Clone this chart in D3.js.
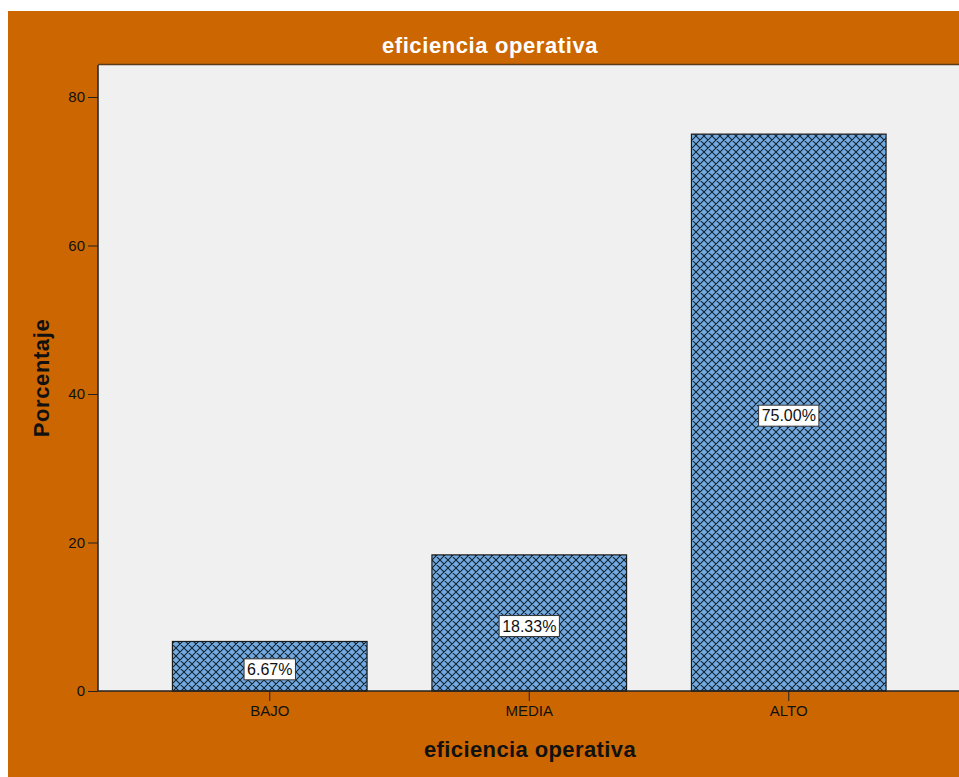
<!DOCTYPE html>
<html>
<head>
<meta charset="utf-8">
<script src="https://cdn.jsdelivr.net/npm/d3@7"></script>
<style>
  html, body { margin: 0; padding: 0; background: #ffffff; }
  svg { display: block; font-family: Arial, "Liberation Sans", sans-serif; }
</style>
</head>
<body>
<div id="chart"></div>
<script>
// categories and percentages
const categories = ["BAJO", "MEDIA", "ALTO"];
const percentages = [6.67, 18.33, 75.00];
const yTicks = [0, 20, 40, 60, 80];

const W = 959, H = 777;
const plot = {left: 98, top: 65, right: 959, bottom: 691};

const svg = d3.select("#chart").append("svg")
    .attr("width", W)
    .attr("height", H);

// orange frame
svg.append("rect")
    .attr("x", 8).attr("y", 11)
    .attr("width", W - 8).attr("height", H - 11)
    .attr("fill", "#cc6600");

// crosshatch fill for the bars
const defs = svg.append("defs");
const pat = defs.append("pattern")
    .attr("id", "hatch")
    .attr("patternUnits", "userSpaceOnUse")
    .attr("width", 8).attr("height", 8);
pat.append("rect").attr("width", 8).attr("height", 8).attr("fill", "#72aae0");
pat.append("path")
    .attr("d", "M0,0L8,8M0,8L8,0M-1,1L1,-1M7,9L9,7M-1,7L1,9M7,-1L9,1")
    .attr("stroke", "#10202e")
    .attr("stroke-width", 1.05);

// plot background
svg.append("rect")
    .attr("x", plot.left).attr("y", plot.top)
    .attr("width", plot.right - plot.left).attr("height", plot.bottom - plot.top)
    .attr("fill", "#f0f0f0");
svg.append("line")
    .attr("x1", plot.left).attr("x2", plot.right)
    .attr("y1", plot.top - 0.5).attr("y2", plot.top - 0.5)
    .attr("stroke", "#5a3a1a").attr("stroke-width", 1.5);

const x = d3.scaleBand()
    .domain(categories)
    .range([140, 918.5])
    .paddingInner(0.25)
    .paddingOuter(0.125);

const y = d3.scaleLinear()
    .domain([0, 80])
    .range([691, 97]);

const data = categories.map((c, i) => ({cat: c, value: percentages[i]}));

// bars
svg.selectAll("rect.bar")
  .data(data)
  .join("rect")
    .attr("class", "bar")
    .attr("x", d => x(d.cat))
    .attr("y", d => y(d.value))
    .attr("width", x.bandwidth())
    .attr("height", d => y(0) - y(d.value))
    .attr("fill", "url(#hatch)")
    .attr("stroke", "#1a1a1a")
    .attr("stroke-width", 1.2);

// value labels in a white box at the middle of each bar
const labels = svg.selectAll("g.lbl")
  .data(data)
  .join("g")
    .attr("class", "lbl")
    .attr("transform", d => `translate(${x(d.cat) + x.bandwidth() / 2},${(y(d.value) + y(0)) / 2 + 3})`);
labels.append("text")
    .attr("text-anchor", "middle")
    .attr("dy", "0.35em")
    .style("font-size", "16px")
    .attr("fill", "#111")
    .text(d => d.value.toFixed(2) + "%")
    .each(function() {
      const b = this.getBBox();
      d3.select(this.parentNode).insert("rect", "text")
        .attr("x", b.x - 3).attr("y", b.y - 2)
        .attr("width", b.width + 6).attr("height", b.height + 4)
        .attr("fill", "#ffffff")
        .attr("stroke", "#333")
        .attr("stroke-width", 1);
    });

// y axis
const yAxis = svg.append("g")
    .attr("transform", `translate(${plot.left},0)`)
    .call(d3.axisLeft(y).tickValues(yTicks).tickSize(10).tickPadding(3));
yAxis.select(".domain").attr("d", `M0,${plot.top}V${plot.bottom}`).attr("stroke", "#222").attr("stroke-width", 1.5);
yAxis.selectAll(".tick line").attr("stroke", "#222");
yAxis.selectAll(".tick text").attr("fill", "#111").style("font-size", "15px").style("font-family", "Arial, 'Liberation Sans', sans-serif");

// x axis
const xAxis = svg.append("g")
    .attr("transform", `translate(0,${plot.bottom})`)
    .call(d3.axisBottom(x).tickSize(10).tickPadding(4));
xAxis.select(".domain").attr("d", `M${plot.left},0H${plot.right}`).attr("stroke", "#222").attr("stroke-width", 1.5);
xAxis.selectAll(".tick line").attr("stroke", "#222");
xAxis.selectAll(".tick text").attr("fill", "#111").style("font-size", "15px").style("font-family", "Arial, 'Liberation Sans', sans-serif");

// titles
svg.append("text")
    .attr("x", 490).attr("y", 53)
    .attr("text-anchor", "middle")
    .attr("fill", "#ffffff")
    .style("font-size", "22px")
    .style("font-weight", "bold")
    .style("letter-spacing", "0.6px")
    .text("eficiencia operativa");

svg.append("text")
    .attr("x", 530).attr("y", 757)
    .attr("text-anchor", "middle")
    .attr("fill", "#111")
    .style("font-size", "22px")
    .style("font-weight", "bold")
    .style("letter-spacing", "0.4px")
    .text("eficiencia operativa");

svg.append("text")
    .attr("transform", "translate(49,378) rotate(-90)")
    .attr("text-anchor", "middle")
    .attr("fill", "#111")
    .style("font-size", "22px")
    .style("font-weight", "bold")
    .style("letter-spacing", "0.6px")
    .text("Porcentaje");
</script>
</body>
</html>
